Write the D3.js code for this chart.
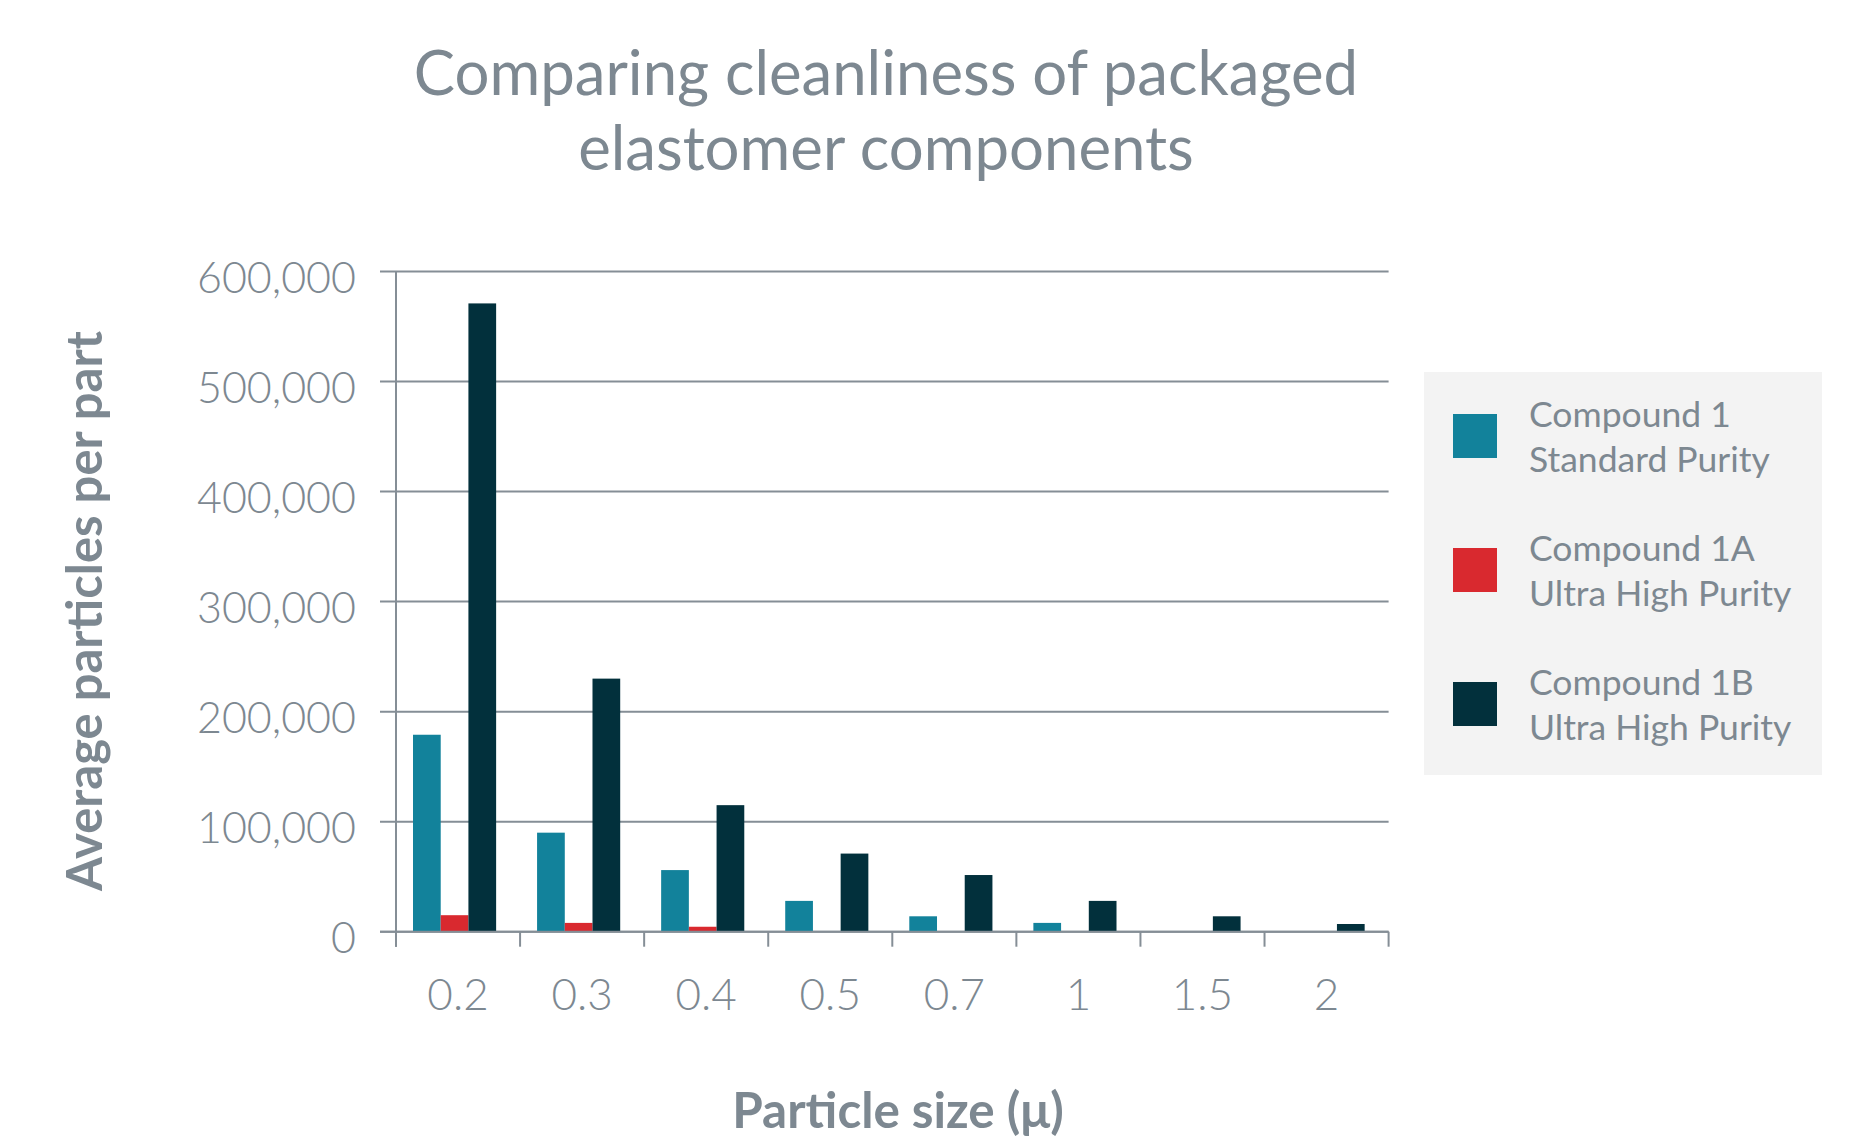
<!DOCTYPE html>
<html>
<head>
<meta charset="utf-8">
<script src="https://cdn.jsdelivr.net/npm/d3@7"></script>
<style>
  html, body { margin: 0; padding: 0; background: #ffffff; }
  svg { display: block; }
  text { font-family: Lato, "Open Sans", "Noto Sans", sans-serif; }
</style>
</head>
<body>
<svg id="chart" width="1857" height="1143"></svg>
<script>
// ---- data ----
const categories = ["0.2", "0.3", "0.4", "0.5", "0.7", "1", "1.5", "2"];
const seriesNames = ["Compound 1", "Compound 1A", "Compound 1B"];
const seriesSubtitles = ["Standard Purity", "Ultra High Purity", "Ultra High Purity"];
const compound1  = [179000, 90000, 56000, 28000, 14000, 8000, 0, 0];
const compound1A = [15000, 8000, 4500, 0, 0, 0, 0, 0];
const compound1B = [571000, 230000, 115000, 71000, 51500, 28000, 14000, 7000];
const yTicks = [0, 100000, 200000, 300000, 400000, 500000, 600000];
const titleLines = ["Comparing cleanliness of packaged", "elastomer components"];
const xTitle = "Particle size (\u03bc)";
const yTitle = "Average particles per part";

(function () {
const seriesValues = [compound1, compound1A, compound1B];
const colors = ["#12829b", "#d9292f", "#02303c"];
const gray = "#858e96";
const textGray = "#7d8891";

const svg = d3.select("#chart");

// ---- scales ----
const pl = 396, pr = 1388.6, pt = 271.5, pb = 931.7;
const x = d3.scaleBand().domain(categories).range([pl, pr]).padding(0);
const bw = x.bandwidth();
const x1 = d3.scaleBand().domain(d3.range(seriesNames.length))
  .range([bw * 0.137, bw * 0.807]).padding(0);
const y = d3.scaleLinear().domain([0, 600000]).range([pb, pt]);

// ---- gridlines ----
svg.append("g").selectAll("line").data(yTicks).join("line")
  .attr("x1", pl - 16).attr("x2", pr)
  .attr("y1", d => y(d)).attr("y2", d => y(d))
  .attr("stroke", gray).attr("stroke-width", 2);

// ---- bars ----
const rows = categories.map((c, i) => ({ cat: c, vals: seriesValues.map(s => s[i]) }));
const groups = svg.append("g").selectAll("g").data(rows).join("g")
  .attr("transform", d => `translate(${x(d.cat)},0)`);
groups.selectAll("rect").data(d => d.vals.map((v, j) => ({ v, j })).filter(e => e.v > 0)).join("rect")
  .attr("x", d => x1(d.j))
  .attr("width", x1.bandwidth())
  .attr("y", d => y(d.v))
  .attr("height", d => pb - y(d.v))
  .attr("fill", d => colors[d.j]);

// ---- axes lines ----
svg.append("line").attr("x1", pl - 16).attr("x2", pr)
  .attr("y1", y(0)).attr("y2", y(0)).attr("stroke", gray).attr("stroke-width", 2);
svg.append("line").attr("x1", pl).attr("x2", pl)
  .attr("y1", y(600000)).attr("y2", pb + 15).attr("stroke", gray).attr("stroke-width", 2);
const boundaries = categories.map(c => x(c)).concat([pr]);
svg.append("g").selectAll("line").data(boundaries).join("line")
  .attr("x1", d => d).attr("x2", d => d)
  .attr("y1", pb).attr("y2", pb + 15)
  .attr("stroke", gray).attr("stroke-width", 2);

// ---- tick labels ----
const fmt = d3.format(",");
svg.append("g").selectAll("text").data(yTicks).join("text")
  .attr("x", 356).attr("y", d => y(d) + 21)
  .attr("text-anchor", "end")
  .attr("font-size", 43).attr("font-weight", 300)
  .attr("fill", textGray)
  .text(d => fmt(d));

svg.append("g").selectAll("text").data(categories).join("text")
  .attr("x", d => x(d) + bw / 2).attr("y", 1010)
  .attr("text-anchor", "middle")
  .attr("font-size", 44).attr("font-weight", 300)
  .attr("fill", textGray)
  .text(d => d);

// ---- title ----
svg.append("g").selectAll("text").data(titleLines).join("text")
  .attr("x", 886).attr("y", (d, i) => 95 + i * 75)
  .attr("text-anchor", "middle")
  .attr("font-size", 61.7).attr("font-weight", 400)
  .attr("fill", textGray)
  .text(d => d);

// ---- axis titles ----
svg.append("text")
  .attr("x", 898).attr("y", 1128)
  .attr("text-anchor", "middle")
  .attr("font-size", 49.4).attr("font-weight", 700)
  .attr("fill", textGray)
  .text(xTitle);

svg.append("text")
  .attr("transform", "translate(102,611) rotate(-90)")
  .attr("text-anchor", "middle")
  .attr("font-size", 49).attr("font-weight", 700)
  .attr("fill", textGray)
  .text(yTitle);

// ---- legend ----
const lg = svg.append("g");
lg.append("rect").attr("x", 1424).attr("y", 372).attr("width", 398).attr("height", 403)
  .attr("fill", "#f3f3f3");
const items = lg.selectAll("g").data(seriesNames).join("g")
  .attr("transform", (d, i) => `translate(0,${427 + i * 134})`);
items.append("rect").attr("x", 1453).attr("y", -13).attr("width", 44).attr("height", 44)
  .attr("fill", (d, i) => colors[i]);
items.append("text").attr("x", 1529).attr("y", 0)
  .attr("font-size", 35.5).attr("fill", textGray).text(d => d);
items.append("text").attr("x", 1529).attr("y", 45)
  .attr("font-size", 35.5).attr("fill", textGray).text((d, i) => seriesSubtitles[i]);
})();
</script>
</body>
</html>
